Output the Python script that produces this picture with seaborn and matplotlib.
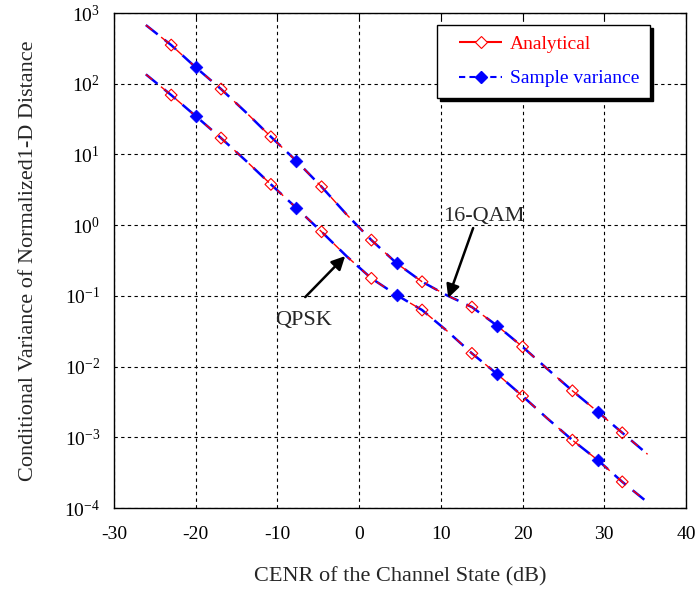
import numpy as np
import pandas as pd
import matplotlib
matplotlib.use("Agg")
import matplotlib.pyplot as plt
import seaborn as sns
from matplotlib.lines import Line2D
from matplotlib.legend_handler import HandlerLine2D

# ---- data ----
cenr_db = [-26.1, -23.0, -20.0, -16.9, -13.8, -10.8, -7.7, -4.6, -1.5, 1.5, 4.6,
           7.7, 10.7, 13.8, 16.9, 20.0, 23.0, 26.1, 29.2, 32.2, 35.3]
# log10 of conditional variance
qam16_log = [2.83, 2.547, 2.232, 1.925, 1.59, 1.25, 0.911, 0.543, 0.147, -0.211, -0.540,
             -0.80, -0.99, -1.158, -1.423, -1.72, -2.03, -2.342, -2.639, -2.936, -3.24]
qpsk_log = [2.133, 1.84, 1.543, 1.232, 0.905, 0.577, 0.246, -0.093, -0.443, -0.752, -0.989,
            -1.20, -1.49, -1.813, -2.106, -2.417, -2.73, -3.04, -3.322, -3.63, -3.92]
qam16_analytical = [10 ** v for v in qam16_log]
qpsk_analytical = [10 ** v for v in qpsk_log]
qam16_sample = list(qam16_analytical)
qpsk_sample = list(qpsk_analytical)
analytical_marker_idx = [1, 3, 5, 7, 9, 11, 13, 15, 17, 19]
sample_marker_idx = [2, 6, 10, 14, 18]
x_ticks = [-30, -20, -10, 0, 10, 20, 30, 40]

sns.set_theme(style="white")
plt.rcParams["font.family"] = ["Liberation Serif", "DejaVu Serif"]
plt.rcParams["mathtext.fontset"] = "custom"
plt.rcParams["mathtext.rm"] = "Liberation Serif"
plt.rcParams["mathtext.it"] = "Liberation Serif:italic"

fig = plt.figure(figsize=(6.99, 5.93), dpi=100)
ax = fig.add_axes([0.1631, 0.1433, 0.8183, 0.8347])

red = "#ff0000"
blue = "#0000ff"

for name, ya, ys in [("16-QAM", qam16_analytical, qam16_sample),
                     ("QPSK", qpsk_analytical, qpsk_sample)]:
    d = pd.DataFrame({"x": cenr_db, "ya": ya, "ys": ys})
    # sample variance (blue dashed) underneath
    sns.lineplot(data=d, x="x", y="ys", ax=ax, color=blue, lw=1.8,
                 linestyle=(0, (6, 3.5)), sort=False, estimator=None)
    # analytical (red long dashes) on top
    sns.lineplot(data=d, x="x", y="ya", ax=ax, color=red, lw=1.0,
                 linestyle=(0, (6, 8)), sort=False, estimator=None)
    da = d.iloc[analytical_marker_idx]
    ds = d.iloc[sample_marker_idx]
    sns.scatterplot(data=da, x="x", y="ya", ax=ax, marker="D", s=36,
                    facecolor="none", edgecolor=red, linewidth=0.8, zorder=5)
    sns.scatterplot(data=ds, x="x", y="ys", ax=ax, marker="D", s=42,
                    color=blue, edgecolor=blue, linewidth=0.5, zorder=6)

ax.set_yscale("log")
ax.set_xlim(-30, 40)
ax.set_ylim(1e-4, 1e3)
ax.set_xticks(x_ticks)
ax.set_xticklabels([str(t) for t in x_ticks])
ax.yaxis.set_minor_locator(matplotlib.ticker.NullLocator())
ax.grid(True, which="major", color="black", linestyle=(0, (3, 3)), linewidth=0.8)
ax.tick_params(direction="in", length=4, width=0.8, top=True, right=True,
               colors="black")
ax.tick_params(axis="x", labelsize=14, pad=13)
ax.tick_params(axis="y", labelsize=14, pad=10)
for sp in ax.spines.values():
    sp.set_color("black")
    sp.set_linewidth(1.0)

ax.set_xlabel("CENR of the Channel State (dB)", fontsize=16)
ax.set_ylabel("Conditional Variance of Normalized1-D Distance", fontsize=16)
ax.xaxis.set_label_coords(0.5, -0.139)
ax.xaxis.label.set_verticalalignment("center")
ax.yaxis.set_label_coords(-0.149, 0.5)
ax.yaxis.label.set_verticalalignment("center")

# annotations
arrow_kw = dict(arrowstyle="-|>", color="black", lw=1.8, mutation_scale=20,
                shrinkA=0, shrinkB=0)
ax.text(15.3, 10 ** 0.129, "16-QAM", ha="center", va="center", fontsize=16)
ax.annotate("", xy=(10.9, 10 ** -1.03), xytext=(13.95, 10 ** -0.041),
            arrowprops=arrow_kw)
ax.text(-6.8, 10 ** -1.342, "QPSK", ha="center", va="center", fontsize=16)
ax.annotate("", xy=(-1.71, 10 ** -0.437), xytext=(-6.6, 10 ** -1.017),
            arrowprops=arrow_kw)

handles = [
    Line2D([0], [0], color=red, lw=1.5, linestyle=(0, (9, 3)), marker="D",
           markersize=6, markerfacecolor="white", markeredgecolor=red, markeredgewidth=0.8),
    Line2D([0], [0], color=blue, lw=1.5, linestyle=(0, (3, 2)), marker="D",
           markersize=6, markerfacecolor=blue, markeredgecolor=blue),
]
hmap = {h: HandlerLine2D(xpad=0.6) for h in handles}
leg = ax.legend(handles, ["Analytical", "Sample variance"], loc="upper right",
                bbox_to_anchor=(0.937, 0.976), fontsize=14, frameon=True,
                fancybox=False, shadow={"color": "black", "alpha": 1.0},
                handlelength=2.8, borderpad=0.55, labelspacing=0.85, handletextpad=0.4,
                borderaxespad=0, handler_map=hmap)
leg.get_frame().set_edgecolor("black")
leg.get_frame().set_linewidth(1.0)
leg.get_texts()[0].set_color(red)
leg.get_texts()[1].set_color(blue)

fig.savefig("out.png", dpi=100)
